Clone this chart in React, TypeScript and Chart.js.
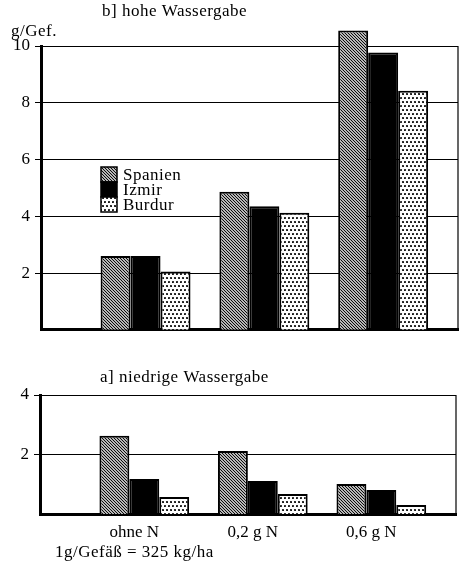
import React, { useEffect, useRef } from "react";
import { Chart, registerables } from "chart.js";

Chart.register(...registerables);

// Daten
const categories = ["ohne N", "0,2 g N", "0,6 g N"];
const seriesNames = ["Spanien", "Izmir", "Burdur"];
const hoheSpanien = [2.6, 4.86, 10.55];
const hoheIzmir = [2.6, 4.35, 9.77];
const hoheBurdur = [2.05, 4.12, 8.42];
const niedrigSpanien = [2.63, 2.12, 1.01];
const niedrigIzmir = [1.18, 1.11, 0.81];
const niedrigBurdur = [0.57, 0.67, 0.3];
const hoheTicks = [2, 4, 6, 8, 10];
const niedrigTicks = [2, 4];

const FONT = '"Liberation Serif", "Times New Roman", serif';
const X_MIN = 0.12;
const X_MAX = 3.63;

function makeHatch(ctx: CanvasRenderingContext2D) {
  const c = document.createElement("canvas");
  c.width = 3;
  c.height = 3;
  const g = c.getContext("2d")!;
  g.fillStyle = "#fff";
  g.fillRect(0, 0, 3, 3);
  g.strokeStyle = "#000";
  g.lineWidth = 1.1;
  g.beginPath();
  for (let k = -3; k <= 3; k += 3) {
    g.moveTo(k - 1, -1);
    g.lineTo(k + 4, 4);
  }
  g.stroke();
  return ctx.createPattern(c, "repeat")!;
}

function makeDots(ctx: CanvasRenderingContext2D) {
  const c = document.createElement("canvas");
  c.width = 4;
  c.height = 8;
  const g = c.getContext("2d")!;
  g.fillStyle = "#fff";
  g.fillRect(0, 0, 4, 8);
  g.fillStyle = "#000";
  g.beginPath();
  g.arc(1, 2, 1.1, 0, Math.PI * 2);
  g.arc(3, 6, 1.1, 0, Math.PI * 2);
  g.fill();
  return ctx.createPattern(c, "repeat")!;
}

function buildDatasets(ctx: CanvasRenderingContext2D, values: number[][]) {
  const fills = [makeHatch(ctx), "#000", makeDots(ctx)];
  return seriesNames.map((name, s) => ({
    label: name,
    data: categories.map((_, i) => ({ x: i + 1, y: values[s][i] })),
    backgroundColor: fills[s],
    borderColor: "#000",
    borderWidth: 2,
    clip: false as any,
  }));
}

type TextItem = { text: string; x: number; y: number };

const Panel: React.FC<{
  height: number;
  top: number;
  values: number[][];
  yMax: number;
  yTicks: number[];
  axisWidth: number;
  padTop: number;
  padRight: number;
  padBottom: number;
  xHeight: number;
  showXLabels: boolean;
  texts: TextItem[];
  legend: boolean;
}> = (p) => {
  const ref = useRef<HTMLCanvasElement | null>(null);

  useEffect(() => {
    if (!ref.current) return;
    const ctx = ref.current.getContext("2d");
    if (!ctx) return;

    const extras = {
      id: "extras",
      afterDraw(chart: any) {
        const c = chart.ctx as CanvasRenderingContext2D;
        const a = chart.chartArea;
        c.save();
        // rechter Rahmen
        c.strokeStyle = "#000";
        c.lineWidth = 1.2;
        c.beginPath();
        c.moveTo(a.right, a.top);
        c.lineTo(a.right, a.bottom);
        c.stroke();
        c.fillStyle = "#000";
        c.font = `17px ${FONT}`;
        (c as any).letterSpacing = "0.5px";
        c.textBaseline = "alphabetic";
        p.texts.forEach((t) => c.fillText(t.text, t.x, t.y));
        if (p.legend) {
          const ds = chart.data.datasets;
          const bx = a.left + 60;
          const by = a.top + 121;
          ds.forEach((d: any, i: number) => {
            c.fillStyle = d.backgroundColor;
            c.fillRect(bx, by + i * 15, 16, 15);
            c.strokeStyle = "#000";
            c.lineWidth = 1.5;
            c.strokeRect(bx, by + i * 15, 16, 15);
            c.fillStyle = "#000";
            c.fillText(d.label, bx + 22, by + i * 15 + 13);
          });
        }
        c.restore();
      },
    };

    const chart = new Chart(ctx, {
      type: "bar",
      data: { datasets: buildDatasets(ctx, p.values) as any },
      options: {
        responsive: false,
        animation: false,
        layout: { padding: { top: p.padTop, right: p.padRight, bottom: p.padBottom, left: 0 } },
        datasets: { bar: { categoryPercentage: 0.757, barPercentage: 1 } },
        plugins: { legend: { display: false }, tooltip: { enabled: false } },
        scales: {
          x: {
            type: "linear",
            min: X_MIN,
            max: X_MAX,
            offset: false,
            z: 1,
            grid: { display: false, drawTicks: false, offset: false },
            border: { display: true, width: 3, color: "#000" },
            ticks: {
              display: p.showXLabels,
              color: "#000",
              font: { family: FONT, size: 17 },
              padding: 8,
              labelOffset: -10,
              callback: (v: any) => categories[Number(v) - 1] ?? "",
            },
            afterBuildTicks: (s: any) => {
              s.ticks = categories.map((_, i) => ({ value: i + 1 }));
            },
            afterFit: (s: any) => {
              s.height = p.xHeight;
            },
          },
          y: {
            min: 0,
            max: p.yMax,
            grid: { color: "#000", lineWidth: 1, drawTicks: true, tickLength: 6 },
            border: { width: 3, color: "#000" },
            ticks: {
              color: "#000",
              font: { family: FONT, size: 17 },
              padding: 5,
            },
            afterBuildTicks: (s: any) => {
              s.ticks = p.yTicks.map((v) => ({ value: v }));
            },
            afterFit: (s: any) => {
              s.width = p.axisWidth;
            },
          },
        },
      },
      plugins: [extras],
    });

    return () => {
      chart.destroy();
    };
  }, []);

  return (
    <canvas
      ref={ref}
      width={473}
      height={p.height}
      style={{ position: "absolute", left: 0, top: p.top, width: 473, height: p.height }}
    />
  );
};

const App: React.FC = () => {
  return (
    <div style={{ position: "absolute", left: 0, top: 0, width: 473, height: 563, background: "#fff" }}>
      <Panel
        top={0}
        height={345}
        values={[hoheSpanien, hoheIzmir, hoheBurdur]}
        yMax={10}
        yTicks={hoheTicks}
        axisWidth={41}
        padTop={46}
        padRight={15}
        padBottom={8}
        xHeight={0}
        showXLabels={false}
        legend={true}
        texts={[
          { text: "b] hohe Wassergabe", x: 102, y: 16 },
          { text: "g/Gef.", x: 11, y: 36 },
        ]}
      />
      <Panel
        top={360}
        height={203}
        values={[niedrigSpanien, niedrigIzmir, niedrigBurdur]}
        yMax={4}
        yTicks={niedrigTicks}
        axisWidth={40}
        padTop={35}
        padRight={17}
        padBottom={19}
        xHeight={30}
        showXLabels={true}
        legend={false}
        texts={[
          { text: "a] niedrige Wassergabe", x: 100, y: 22 },
          { text: "1g/Gefäß = 325 kg/ha", x: 55, y: 197 },
        ]}
      />
    </div>
  );
};

export default App;
